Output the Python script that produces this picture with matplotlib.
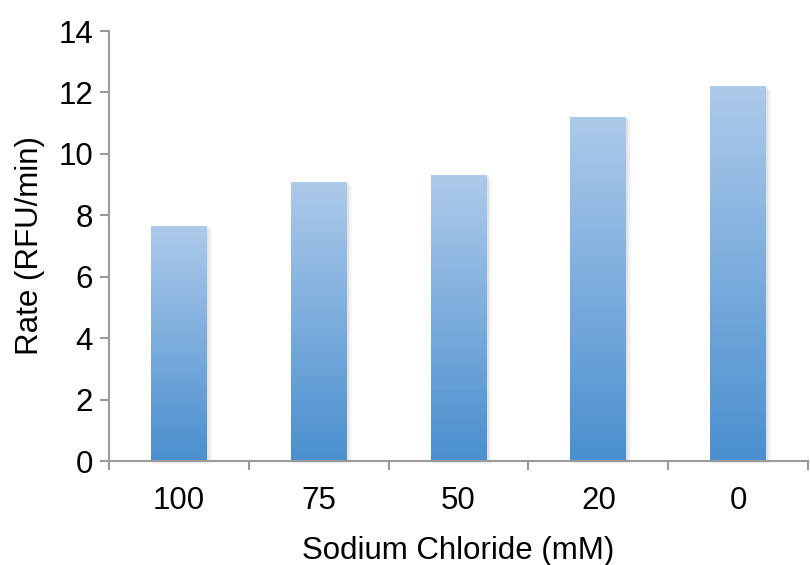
import numpy as np
import matplotlib
matplotlib.use("Agg")
import matplotlib.pyplot as plt
from matplotlib.colors import LinearSegmentedColormap
from matplotlib.patches import Rectangle

categories = ["100", "75", "50", "20", "0"]
rates = [7.65, 9.07, 9.3, 11.2, 12.18]
y_ticks = [0, 2, 4, 6, 8, 10, 12, 14]

plt.rcParams['font.family'] = ['Liberation Sans', 'DejaVu Sans']
fig = plt.figure(figsize=(8.1, 5.65), dpi=100)
ax = fig.add_axes([0.1346, 0.184, 0.863, 0.761])

x = np.arange(len(categories))
bars = ax.bar(x, rates, width=0.4, color='none', edgecolor='none', zorder=3)

cmap = LinearSegmentedColormap.from_list('g', ['#4A8FCF', '#ADCAEA'])
grad = np.linspace(0, 1, 256).reshape(-1, 1)
for b in bars:
    x0, w, h = b.get_x(), b.get_width(), b.get_height()
    # soft shadow
    for i, a in enumerate([0.12, 0.08, 0.05]):
        dx = 0.012 + i * 0.008
        dy = 0.03 + i * 0.03
        ax.add_patch(Rectangle((x0 + dx * 0.3, -dy), w + dx, h, facecolor='#888888',
                               edgecolor='none', alpha=a, zorder=2, clip_on=False))
    ax.imshow(grad, cmap=cmap, origin='lower', aspect='auto',
              extent=(x0, x0 + w, 0, h), zorder=3, interpolation='bilinear')

ax.set_xlim(-0.5, len(categories) - 0.5)
ax.set_ylim(0, 14)
ax.set_yticks(y_ticks)
ax.set_yticklabels([str(t) for t in y_ticks])
ax.set_xticks(x)
ax.set_xticklabels(categories)
ax.set_xticks(np.arange(len(categories) + 1) - 0.5, minor=True)

gray = '#9a9a9a'
for s in ['top', 'right']:
    ax.spines[s].set_visible(False)
for s in ['left', 'bottom']:
    ax.spines[s].set_color(gray)
    ax.spines[s].set_linewidth(1.5)
ax.spines['bottom'].set_zorder(5)

fs = 22.5
ax.tick_params(axis='y', colors=gray, labelcolor='black', length=6.5, width=1.5,
               pad=5.0, labelsize=fs, direction='out')
ax.tick_params(axis='x', which='major', length=0, pad=18, labelsize=fs, labelcolor='black')
ax.tick_params(axis='x', which='minor', length=6.5, width=1.5, color=gray, direction='out')

ax.set_xlabel("Sodium Chloride (mM)", fontsize=fs)
ax.set_ylabel("Rate (RFU/min)", fontsize=fs)
ax.xaxis.set_label_coords(0.499, -0.175)
ax.yaxis.set_label_coords(-0.0916, 0.502)

fig.savefig("out.png", dpi=100)
